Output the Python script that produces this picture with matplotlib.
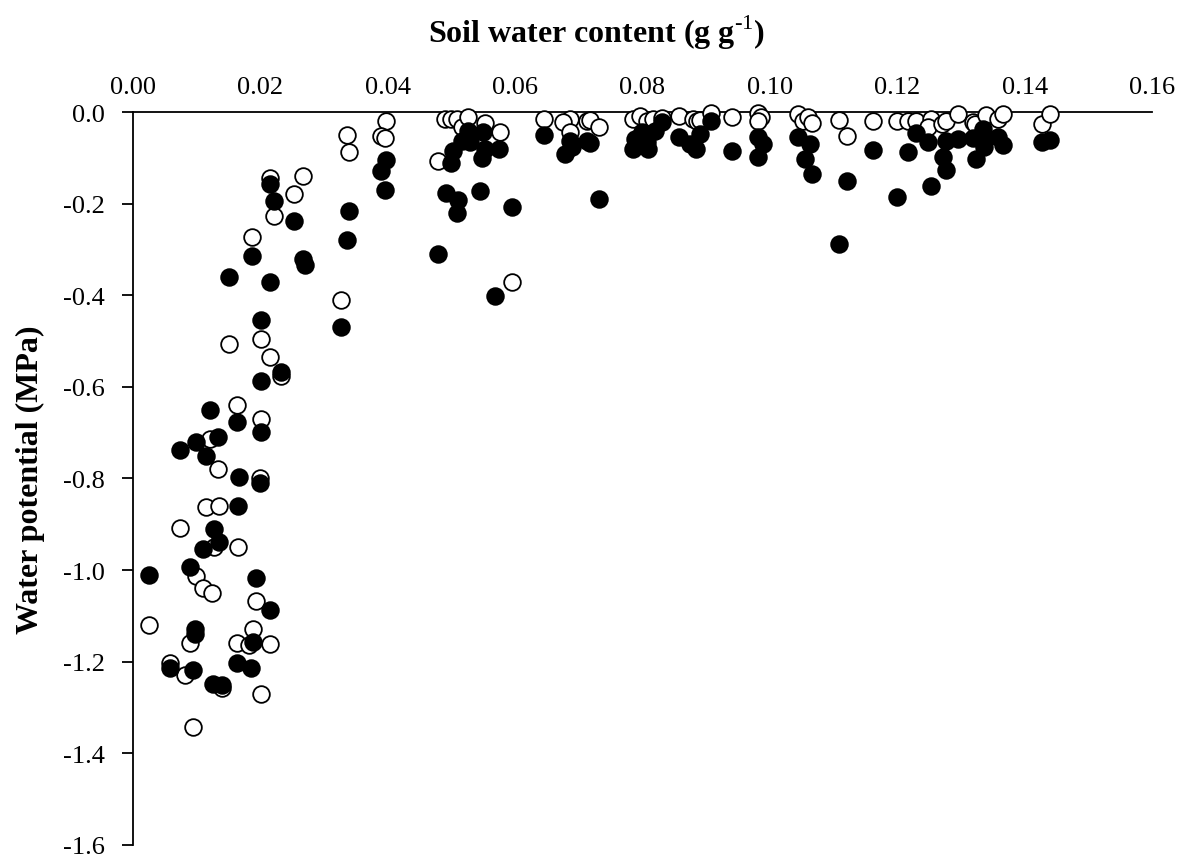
import matplotlib
matplotlib.use("Agg")
import matplotlib.pyplot as plt

plt.rcParams["font.family"] = ["Liberation Serif", "DejaVu Serif"]
plt.rcParams["mathtext.fontset"] = "custom"
plt.rcParams["mathtext.rm"] = "Liberation Serif"
plt.rcParams["mathtext.bf"] = "Liberation Serif:bold"

# open circles (x: soil water content, y: water potential)
open_x = [0.0215, 0.0267, 0.0253, 0.0222, 0.0187, 0.0151, 0.0201, 0.0215, 0.0232,
          0.0163, 0.0201, 0.0121, 0.0133, 0.0199, 0.0115, 0.0135, 0.0074, 0.0127,
          0.0165, 0.0099, 0.0110, 0.0124, 0.0193, 0.0025, 0.0090, 0.0188, 0.0163,
          0.0182, 0.0215, 0.0058, 0.0082, 0.0140, 0.0201, 0.0094,
          0.0336, 0.0339, 0.0327, 0.0397, 0.0390, 0.0396, 0.0479, 0.0490, 0.0500,
          0.0508, 0.0516, 0.0526, 0.0553, 0.0576, 0.0595, 0.0645, 0.0686, 0.0675,
          0.0686, 0.0713, 0.0718, 0.0732,
          0.0785, 0.0796, 0.0807, 0.0817, 0.0830, 0.0857, 0.0879, 0.0885, 0.0890,
          0.0907, 0.0940, 0.0981, 0.0986, 0.0981, 0.1044, 0.1052, 0.1060, 0.1066,
          0.1108, 0.1121, 0.1162,
          0.1200, 0.1217, 0.1230, 0.1253, 0.1248, 0.1270, 0.1276, 0.1295, 0.1319,
          0.1322, 0.1340, 0.1358, 0.1366, 0.1427, 0.1440]
open_y = [-0.145, -0.139, -0.180, -0.226, -0.272, -0.507, -0.496, -0.535, -0.576,
          -0.639, -0.670, -0.713, -0.780, -0.800, -0.863, -0.859, -0.909, -0.950,
          -0.950, -1.013, -1.039, -1.050, -1.067, -1.120, -1.159, -1.128, -1.160,
          -1.163, -1.161, -1.202, -1.228, -1.258, -1.270, -1.343,
          -0.050, -0.087, -0.411, -0.020, -0.052, -0.057, -0.107, -0.015, -0.015,
          -0.015, -0.033, -0.011, -0.024, -0.043, -0.370, -0.015, -0.015, -0.022,
          -0.043, -0.020, -0.017, -0.033,
          -0.015, -0.009, -0.020, -0.015, -0.013, -0.009, -0.015, -0.020, -0.017,
          -0.002, -0.011, -0.002, -0.011, -0.020, -0.004, -0.020, -0.011, -0.024,
          -0.017, -0.052, -0.020,
          -0.020, -0.020, -0.020, -0.015, -0.033, -0.026, -0.020, -0.004, -0.022,
          -0.026, -0.007, -0.015, -0.004, -0.026, -0.004]

# filled circles
filled_x = [0.0215, 0.0222, 0.0253, 0.0187, 0.0267, 0.0270, 0.0151, 0.0215, 0.0201,
            0.0232, 0.0201,
            0.0121, 0.0163, 0.0201, 0.0074, 0.0099, 0.0133, 0.0115, 0.0166, 0.0199,
            0.0165, 0.0127, 0.0135, 0.0110, 0.0025, 0.0090, 0.0193, 0.0215, 0.0097,
            0.0097, 0.0188, 0.0058, 0.0094, 0.0163, 0.0185, 0.0126, 0.0140,
            0.0339, 0.0336, 0.0327, 0.0397, 0.0390, 0.0396, 0.0479, 0.0526, 0.0516,
            0.0502, 0.0500, 0.0529, 0.0550, 0.0548, 0.0553, 0.0575, 0.0491, 0.0510,
            0.0509, 0.0545, 0.0595, 0.0568, 0.0645, 0.0686, 0.0678, 0.0689, 0.0713,
            0.0718, 0.0732,
            0.0788, 0.0785, 0.0809, 0.0799, 0.0820, 0.0830, 0.0807, 0.0857, 0.0890,
            0.0884, 0.0875, 0.0907, 0.0940, 0.0981, 0.0990, 0.0981, 0.1044, 0.1063,
            0.1055, 0.1066, 0.1121, 0.1162, 0.1108,
            0.1200, 0.1217, 0.1230, 0.1248, 0.1253, 0.1272, 0.1276, 0.1276, 0.1295,
            0.1319, 0.1324, 0.1335, 0.1338, 0.1336, 0.1358, 0.1366, 0.1427, 0.1440]
filled_y = [-0.157, -0.195, -0.237, -0.315, -0.320, -0.335, -0.361, -0.370, -0.454,
            -0.568, -0.587,
            -0.650, -0.676, -0.698, -0.737, -0.720, -0.709, -0.750, -0.796, -0.809,
            -0.861, -0.911, -0.939, -0.954, -1.011, -0.993, -1.017, -1.087, -1.128,
            -1.139, -1.157, -1.213, -1.217, -1.202, -1.213, -1.248, -1.250,
            -0.217, -0.280, -0.470, -0.104, -0.128, -0.170, -0.309, -0.041, -0.063,
            -0.085, -0.111, -0.065, -0.043, -0.100, -0.080, -0.080, -0.176, -0.193,
            -0.220, -0.172, -0.207, -0.402, -0.050, -0.063, -0.091, -0.076, -0.063,
            -0.067, -0.189,
            -0.059, -0.080, -0.080, -0.043, -0.041, -0.022, -0.065, -0.054, -0.048,
            -0.080, -0.070, -0.020, -0.085, -0.054, -0.070, -0.098, -0.054, -0.070,
            -0.102, -0.135, -0.150, -0.083, -0.289,
            -0.185, -0.087, -0.046, -0.065, -0.161, -0.098, -0.126, -0.063, -0.059,
            -0.057, -0.102, -0.037, -0.054, -0.076, -0.054, -0.072, -0.065, -0.061]

x_ticks = [0.00, 0.02, 0.04, 0.06, 0.08, 0.10, 0.12, 0.14, 0.16]
y_ticks = [0.0, -0.2, -0.4, -0.6, -0.8, -1.0, -1.2, -1.4, -1.6]

fig = plt.figure(figsize=(11.81, 8.62), dpi=100, facecolor="white")
ax = fig.add_axes([0.1126, 0.0186, 0.8628, 0.8503])

ax.plot(open_x, open_y, "o", ms=12, mfc="white", mec="black", mew=1.3,
        ls="none", clip_on=False, zorder=3)
ax.plot(filled_x, filled_y, "o", ms=12, mfc="black", mec="black", mew=1.3,
        ls="none", clip_on=False, zorder=4)

ax.set_xlim(0, 0.16)
ax.set_ylim(-1.6, 0)

ax.spines["bottom"].set_visible(False)
ax.spines["right"].set_visible(False)
ax.spines["top"].set_linewidth(1.3)
ax.spines["left"].set_linewidth(1.3)

ax.xaxis.tick_top()
ax.set_xticks(x_ticks)
ax.set_xticklabels([f"{v:.2f}" for v in x_ticks])
ax.tick_params(axis="x", length=0, pad=10, labelsize=19)
ax.set_yticks(y_ticks)
ax.set_yticklabels([f"{v:.1f}" for v in y_ticks])
ax.tick_params(axis="y", direction="out", length=8, width=1.3, pad=12, labelsize=19)

fig.text(0.505, 0.962, r"Soil water content (g g$^{\text{-1}}$)", ha="center",
         va="center", fontsize=23, fontweight="bold")
fig.text(0.026, 0.443, "Water potential (MPa)", ha="center", va="center",
         rotation=90, fontsize=23, fontweight="bold")

fig.savefig("out.png", dpi=100, facecolor="white")
